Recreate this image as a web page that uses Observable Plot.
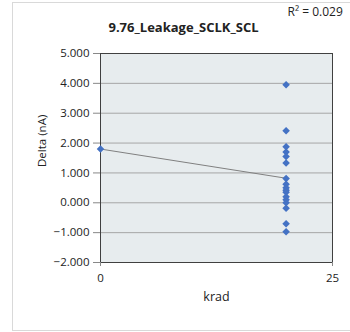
<!DOCTYPE html>
<html>
<head>
<meta charset="utf-8">
<script src="https://cdn.jsdelivr.net/npm/d3@7"></script>
<script src="https://cdn.jsdelivr.net/npm/@observablehq/plot@0.6"></script>
<style>
  html, body { margin: 0; padding: 0; background: #fff; overflow: hidden; }
  #wrap { position: relative; width: 350px; height: 332px; }
  #border { position: absolute; left: 12px; top: 2px; width: 400px; height: 327px; border: 1px solid #D9D9D9; pointer-events: none; }
  svg { font-family: "Open Sans", sans-serif; }
</style>
</head>
<body>
<div id="wrap"><div id="border"></div></div>
<script>
const title = "9.76_Leakage_SCLK_SCL";
const rSquaredLabel = "R² = 0.029";
const xLabel = "krad";
const yLabel = "Delta (nA)";
const krad = [0, 20, 20, 20, 20, 20, 20, 20, 20, 20, 20, 20, 20, 20, 20, 20, 20, 20];
const delta = [1.8, 3.95, 2.41, 1.88, 1.70, 1.55, 1.33, 0.81, 0.62, 0.50, 0.42, 0.35, 0.20, 0.10, 0.0, -0.18, -0.70, -0.97];
const yTicks = [-2, -1, 0, 1, 2, 3, 4, 5];
const xTicks = [0, 25];

const data = krad.map((k, i) => ({krad: k, delta: delta[i]}));

const chart = Plot.plot({
  width: 350,
  height: 332,
  marginLeft: 100,
  marginRight: 18,
  marginTop: 53,
  marginBottom: 70,
  style: {fontFamily: "'Open Sans', sans-serif", background: "transparent"},
  x: {domain: [0, 25]},
  y: {domain: [-2, 5]},
  marks: [
    Plot.frame({fill: "#E7ECEE", stroke: null}),
    Plot.gridY(yTicks, {stroke: "#A6A6A6", strokeOpacity: 1, strokeWidth: 1}),
    Plot.frame({stroke: "#404040", strokeWidth: 1}),
    Plot.axisY(yTicks, {tickFormat: d3.format(".3f"), tickSize: 7, tickPadding: 4, fontSize: 11.5, label: null, stroke: "#888", color: "#222"}),
    Plot.axisX(xTicks, {tickSize: 4, tickPadding: 7, fontSize: 11.5, label: null, stroke: "#888", color: "#222"}),
    Plot.linearRegressionY(data, {x: "krad", y: "delta", ci: 0, stroke: "#808080", strokeWidth: 1}),
    Plot.dot(data, {x: "krad", y: "delta", symbol: "diamond2", r: 3.4, fill: "#4472C4", stroke: null}),
    Plot.text([title], {frameAnchor: "top", dx: -33, dy: -31, fontSize: 13, fontWeight: "bold", fill: "#222"}),
    Plot.text([rSquaredLabel], {frameAnchor: "top-right", textAnchor: "start", dx: -45, dy: -46, fontSize: 12, fill: "#222"}),
    Plot.text([xLabel], {frameAnchor: "bottom", dy: 38, fontSize: 12.5, fill: "#222"}),
    Plot.text([yLabel], {frameAnchor: "left", rotate: -90, dx: -58, dy: 9, fontSize: 11.5, fill: "#222"})
  ]
});
document.getElementById("wrap").prepend(chart);
chart.style.position = "absolute";
chart.style.left = "0px";
chart.style.top = "0px";
</script>
</body>
</html>
